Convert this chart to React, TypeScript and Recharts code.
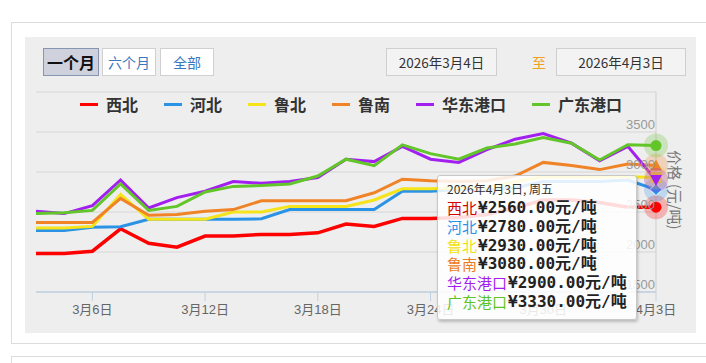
import React from 'react';
import { LineChart, Line, XAxis, YAxis, CartesianGrid } from 'recharts';

const dates = ['3月4日','3月5日','3月6日','3月9日','3月10日','3月11日','3月12日','3月13日','3月16日','3月17日','3月18日','3月19日','3月20日','3月23日','3月24日','3月25日','3月26日','3月27日','3月30日','3月31日','4月1日','4月2日','4月3日'];
const xibei = [1980,1980,2010,2290,2110,2060,2200,2200,2220,2220,2240,2350,2320,2420,2420,2430,2470,2550,2650,2650,2620,2560,2560];
const hebei = [2270,2270,2310,2315,2410,2410,2410,2410,2415,2530,2530,2530,2530,2760,2760,2780,2780,2800,2880,2880,2880,2900,2780];
const lubei = [2300,2300,2320,2720,2410,2410,2410,2500,2500,2570,2570,2570,2650,2790,2790,2800,2800,2880,2940,2940,2940,2940,2930];
const lunan = [2370,2370,2370,2670,2460,2470,2510,2530,2640,2640,2640,2640,2740,2910,2890,2880,2890,2950,3120,3080,3030,3100,3080];
const huadong = [2510,2480,2580,2900,2550,2680,2760,2880,2860,2880,2930,3160,3130,3320,3160,3120,3280,3410,3480,3360,3140,3320,2900];
const guangdong = [2480,2490,2520,2850,2520,2570,2750,2820,2830,2850,2950,3160,3080,3340,3230,3160,3300,3350,3430,3360,3150,3340,3330];

const seriesNames = ['西北','河北','鲁北','鲁南','华东港口','广东港口'];
const seriesValues = [xibei, hebei, lubei, lunan, huadong, guangdong];
const seriesColors = ['#ff0000','#2b93e6','#f5e41a','#ef8326','#a21ff0','#62c52a'];
const tooltipNameColors = ['#d40000','#2b93e6','#f2e20a','#ec7c22','#a21ff0','#5ec424'];
const markerShapes = ['circle','diamond','square','triangle','triangle-down','circle'];

const yTicks = [1500,2000,2500,3000,3500,4000];
const yLabelTicks = [1500,2000,2500,3000,3500];
const xTickIndexes = [2,6,10,14,18,22];
const buttonLabels = ['一个月','六个月','全部'];
const rangeStart = '2026年3月4日';
const rangeEnd = '2026年4月3日';
const rangeSep = '至';
const yTitle = '价格 (元/吨)';
const tooltipTitle = '2026年4月3日, 周五';
const tooltipIndex = 22;

const data = dates.map((d, i) => {
  const row: any = { date: d };
  seriesValues.forEach((arr, k) => { row['s' + k] = arr[i]; });
  return row;
});

const baseFont = '"Liberation Sans", "Noto Sans CJK SC", sans-serif';
const cjkFont = '"Noto Sans CJK SC", sans-serif';

function makeDot(k: number) {
  const color = seriesColors[k];
  const shape = markerShapes[k];
  return (props: any) => {
    const { cx, cy, index } = props;
    if (index !== dates.length - 1 || cx == null) return <g key={'d' + k + '-' + index} />;
    let mark: any;
    if (shape === 'circle') mark = <circle cx={cx} cy={cy} r={5.5} fill={color} />;
    else if (shape === 'diamond') mark = <polygon points={`${cx},${cy - 6} ${cx + 6},${cy} ${cx},${cy + 6} ${cx - 6},${cy}`} fill={color} stroke="#fff" strokeWidth={1} />;
    else if (shape === 'square') mark = <rect x={cx - 5.5} y={cy - 5.5} width={11} height={11} fill={color} />;
    else if (shape === 'triangle') mark = <polygon points={`${cx},${cy - 6} ${cx + 6},${cy + 5} ${cx - 6},${cy + 5}`} fill={color} />;
    else mark = <polygon points={`${cx - 6},${cy - 5} ${cx + 6},${cy - 5} ${cx},${cy + 6}`} fill={color} />;
    return (
      <g key={'d' + k + '-' + index}>
        <circle cx={cx} cy={cy} r={12} fill={color} fillOpacity={0.25} />
        {mark}
      </g>
    );
  };
}

const XTick = (props: any) => {
  const { x, y, payload } = props;
  if (!xTickIndexes.includes(payload.index)) return <g />;
  return (
    <g>
      <line x1={x} x2={x} y1={y} y2={y + 9} stroke="#c0d0e0" strokeWidth={1} />
      <text x={x} y={y + 22} textAnchor="middle" fontSize={13} fill="#666" fontFamily={baseFont}>{payload.value}</text>
    </g>
  );
};

const YTick = (props: any) => {
  const { x, y, payload } = props;
  if (!yLabelTicks.includes(payload.value)) return <g />;
  return (
    <text x={x - 1} y={y - 3} textAnchor="end" fontSize={13} fill="#999" fontFamily={baseFont}>{payload.value}</text>
  );
};

const boxText = (h: number): any => ({ display: 'inline-block', height: h, lineHeight: h + 'px', overflow: 'visible', verticalAlign: 'top' });

export default function App() {
  return (
    <div style={{ position: 'absolute', left: 0, top: 0, width: 706, height: 363, background: '#fff', overflow: 'hidden', fontFamily: baseFont }}>
      <div style={{ position: 'absolute', left: 11, top: 22, width: 720, height: 322, border: '1px solid #dcdcdc', boxSizing: 'border-box' }} />
      <div style={{ position: 'absolute', left: 11, top: 356, width: 720, height: 20, border: '1px solid #dcdcdc', boxSizing: 'border-box' }} />
      <div style={{ position: 'absolute', left: 25, top: 37, width: 671, height: 296, background: '#eeeeee' }} />

      {buttonLabels.map((b, i) => {
        const lefts = [43, 102, 160];
        const widths = [56, 54, 54];
        const active = i === 0;
        return (
          <div key={b} style={{ position: 'absolute', left: lefts[i], top: 48, width: widths[i], height: 28, boxSizing: 'border-box', border: active ? '1px solid #8795b0' : '1px solid #d0d0d0', background: active ? '#cfd2dc' : '#fff', color: active ? '#111' : '#3a78c0', fontWeight: active ? 700 : 400, fontSize: active ? 16 : 14, lineHeight: '26px', textAlign: 'center', fontFamily: cjkFont }}>{b}</div>
        );
      })}
      <div style={{ position: 'absolute', left: 386, top: 48, width: 111, height: 28, boxSizing: 'border-box', border: '1px solid #cfcfcf', background: '#f3f3f3', color: '#333', fontSize: 13.5, lineHeight: '26px', textAlign: 'center', fontFamily: cjkFont }}>{rangeStart}</div>
      <div style={{ position: 'absolute', left: 531, top: 48, width: 16, height: 28, color: '#f0a020', fontSize: 14, lineHeight: '28px', textAlign: 'center', fontFamily: cjkFont }}>{rangeSep}</div>
      <div style={{ position: 'absolute', left: 556, top: 48, width: 130, height: 28, boxSizing: 'border-box', border: '1px solid #cfcfcf', background: '#f3f3f3', color: '#333', fontSize: 13.5, lineHeight: '26px', textAlign: 'center', fontFamily: cjkFont }}>{rangeEnd}</div>

      <div style={{ position: 'absolute', left: 0, top: 0 }}>
        <LineChart width={706} height={363} data={data} margin={{ top: 92, right: 0, bottom: 41, left: 36 }}>
          <CartesianGrid horizontal={true} vertical={false} stroke="#d6d6d6" strokeWidth={1} />
          <XAxis dataKey="date" interval={0} height={30} tickSize={0} tickMargin={0} tick={<XTick />} axisLine={{ stroke: '#c0d0e0', strokeWidth: 1.5 }} tickLine={false} padding={{ left: 0, right: 0 }} />
          <YAxis orientation="right" width={50} domain={[1500, 4000]} ticks={yTicks} tickSize={0} tickMargin={0} tick={<YTick />} axisLine={{ stroke: '#cfcfcf' }} tickLine={false} allowDataOverflow />
          {seriesNames.map((n, k) => (
            <Line key={n} dataKey={'s' + k} name={n} type="linear" stroke={seriesColors[k]} strokeWidth={k === 0 ? 3.5 : 3} dot={makeDot(k)} activeDot={false} isAnimationActive={false} />
          ))}
        </LineChart>
      </div>

      <div style={{ position: 'absolute', left: 80, top: 93, height: 22, display: 'flex', alignItems: 'center', fontFamily: cjkFont }}>
        {seriesNames.map((n, k) => (
          <div key={n} style={{ display: 'flex', alignItems: 'center', marginRight: 26 }}>
            <div style={{ width: 18, height: 3, background: seriesColors[k], marginRight: 8 }} />
            <span style={{ ...boxText(22), fontSize: 16, fontWeight: 700, color: '#333' }}>{n}</span>
          </div>
        ))}
      </div>

      <div style={{ position: 'absolute', left: 675, top: 190, width: 0, height: 0 }}>
        <div style={{ position: 'absolute', left: -60, top: -10, width: 120, height: 20, textAlign: 'center', transform: 'rotate(90deg)', fontSize: 15, color: '#777', lineHeight: '20px', fontFamily: cjkFont, whiteSpace: 'nowrap' }}>{yTitle}</div>
      </div>

      <div style={{ position: 'absolute', left: 437, top: 175, width: 200, height: 145, boxSizing: 'border-box', background: 'rgba(255,255,255,0.86)', border: '1px solid #c8c8c8', borderRadius: 3, boxShadow: '1px 2px 3px rgba(0,0,0,0.22)', padding: '5px 0 0 9px' }}>
        <div style={{ height: 18 }}>
          <span style={{ ...boxText(16), fontSize: 12, color: '#333', fontFamily: cjkFont }}>{tooltipTitle}</span>
        </div>
        {seriesNames.map((n, k) => (
          <div key={n} style={{ height: 18.8, whiteSpace: 'nowrap', display: 'flex', alignItems: 'flex-start' }}>
            <span style={{ ...boxText(18), fontSize: 15, color: tooltipNameColors[k], fontFamily: cjkFont }}>{n}</span>
            <span style={{ ...boxText(18), fontSize: 16, fontWeight: 700, color: '#222', fontFamily: '"DejaVu Sans Mono", "Noto Sans CJK SC", monospace', marginLeft: 1 }}>{'¥' + seriesValues[k][tooltipIndex].toFixed(2) + '元/吨'}</span>
          </div>
        ))}
      </div>
    </div>
  );
}
